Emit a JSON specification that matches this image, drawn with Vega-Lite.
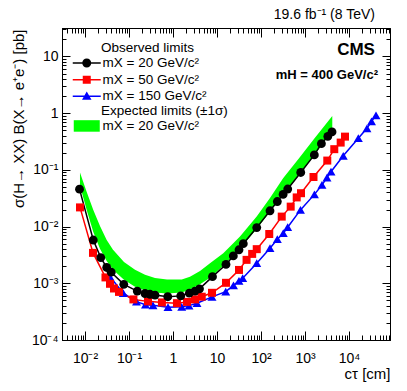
{
  "$schema": "https://vega.github.io/schema/vega-lite/v6.json",
  "width": 328,
  "height": 312,
  "autosize": "none",
  "padding": {"left": 62, "top": 28, "right": 17, "bottom": 51},
  "config": {
    "font": "Liberation Sans",
    "view": {"stroke": "black", "strokeWidth": 1},
    "axis": {
      "grid": false, "domainColor": "black", "domainWidth": 1, "tickColor": "black", "tickWidth": 1,
      "labelColor": "black", "titleColor": "black", "labelFont": "Liberation Sans", "titleFont": "Liberation Sans",
      "labelFontSize": 14, "titleFontSize": 15, "titleFontWeight": "normal", "labelOverlap": false, "labelFlush": false, "labelBound": false
    },
    "legend": {
      "titleFont": "Liberation Sans", "labelFont": "Liberation Sans", "titleFontSize": 13.5, "labelFontSize": 13.5,
      "titleFontWeight": "normal", "titleColor": "black", "labelColor": "black", "symbolOpacity": 1
    }
  },
  "title": {"text": "19.6 fb⁻¹ (8 TeV)", "anchor": "end", "frame": "group", "fontSize": 14, "fontWeight": "normal", "color": "black", "offset": 0, "dx": -15, "font": "Liberation Sans"},
  "datasets": {
    "band": [
      {"c": 0.00769, "hi": 0.0896, "lo": 0.0525, "b": "mX = 20 GeV/c²"},
      {"c": 0.01093, "hi": 0.0409, "lo": 0.0197, "b": "mX = 20 GeV/c²"},
      {"c": 0.01544, "hi": 0.0197, "lo": 0.00805, "b": "mX = 20 GeV/c²"},
      {"c": 0.0219, "hi": 0.01028, "lo": 0.00405, "b": "mX = 20 GeV/c²"},
      {"c": 0.0311, "hi": 0.00582, "lo": 0.00248, "b": "mX = 20 GeV/c²"},
      {"c": 0.0433, "hi": 0.00389, "lo": 0.00173, "b": "mX = 20 GeV/c²"},
      {"c": 0.0769, "hi": 0.00238, "lo": 0.00115, "b": "mX = 20 GeV/c²"},
      {"c": 0.137, "hi": 0.00173, "lo": 0.000865, "b": "mX = 20 GeV/c²"},
      {"c": 0.231, "hi": 0.00141, "lo": 0.00075, "b": "mX = 20 GeV/c²"},
      {"c": 0.39, "hi": 0.00124, "lo": 0.00069, "b": "mX = 20 GeV/c²"},
      {"c": 0.731, "hi": 0.00117, "lo": 0.000664, "b": "mX = 20 GeV/c²"},
      {"c": 1.58, "hi": 0.00117, "lo": 0.00069, "b": "mX = 20 GeV/c²"},
      {"c": 2.43, "hi": 0.0013, "lo": 0.00078, "b": "mX = 20 GeV/c²"},
      {"c": 4.11, "hi": 0.00165, "lo": 0.00096, "b": "mX = 20 GeV/c²"},
      {"c": 6.93, "hi": 0.00226, "lo": 0.00125, "b": "mX = 20 GeV/c²"},
      {"c": 13.9, "hi": 0.0034, "lo": 0.00203, "b": "mX = 20 GeV/c²"},
      {"c": 33.3, "hi": 0.00667, "lo": 0.00405, "b": "mX = 20 GeV/c²"},
      {"c": 79.8, "hi": 0.015, "lo": 0.0091, "b": "mX = 20 GeV/c²"},
      {"c": 160, "hi": 0.032, "lo": 0.0182, "b": "mX = 20 GeV/c²"},
      {"c": 321, "hi": 0.0723, "lo": 0.0378, "b": "mX = 20 GeV/c²"},
      {"c": 770, "hi": 0.169, "lo": 0.0885, "b": "mX = 20 GeV/c²"},
      {"c": 1600, "hi": 0.352, "lo": 0.177, "b": "mX = 20 GeV/c²"},
      {"c": 4170, "hi": 0.895, "lo": 0.488, "b": "mX = 20 GeV/c²"}
    ],
    "obs": [
      {"c": 0.0077, "v": 0.0218, "s": "mX = 50 GeV/c²"},
      {"c": 0.0152, "v": 0.00344, "s": "mX = 50 GeV/c²"},
      {"c": 0.0292, "v": 0.00127, "s": "mX = 50 GeV/c²"},
      {"c": 0.037, "v": 0.00098, "s": "mX = 50 GeV/c²"},
      {"c": 0.0456, "v": 0.00081, "s": "mX = 50 GeV/c²"},
      {"c": 0.0593, "v": 0.000705, "s": "mX = 50 GeV/c²"},
      {"c": 0.126, "v": 0.00052, "s": "mX = 50 GeV/c²"},
      {"c": 0.27, "v": 0.00048, "s": "mX = 50 GeV/c²"},
      {"c": 0.56, "v": 0.00046, "s": "mX = 50 GeV/c²"},
      {"c": 1.23, "v": 0.000446, "s": "mX = 50 GeV/c²"},
      {"c": 2.08, "v": 0.00047, "s": "mX = 50 GeV/c²"},
      {"c": 3.16, "v": 0.00052, "s": "mX = 50 GeV/c²"},
      {"c": 4.5, "v": 0.00058, "s": "mX = 50 GeV/c²"},
      {"c": 7.7, "v": 0.00068, "s": "mX = 50 GeV/c²"},
      {"c": 16, "v": 0.00102, "s": "mX = 50 GeV/c²"},
      {"c": 31.6, "v": 0.00172, "s": "mX = 50 GeV/c²"},
      {"c": 47, "v": 0.00259, "s": "mX = 50 GeV/c²"},
      {"c": 63, "v": 0.0033, "s": "mX = 50 GeV/c²"},
      {"c": 80, "v": 0.004, "s": "mX = 50 GeV/c²"},
      {"c": 154, "v": 0.0074, "s": "mX = 50 GeV/c²"},
      {"c": 296, "v": 0.015, "s": "mX = 50 GeV/c²"},
      {"c": 473, "v": 0.0225, "s": "mX = 50 GeV/c²"},
      {"c": 648, "v": 0.0327, "s": "mX = 50 GeV/c²"},
      {"c": 811, "v": 0.0388, "s": "mX = 50 GeV/c²"},
      {"c": 1560, "v": 0.075, "s": "mX = 50 GeV/c²"},
      {"c": 3210, "v": 0.146, "s": "mX = 50 GeV/c²"},
      {"c": 4630, "v": 0.232, "s": "mX = 50 GeV/c²"},
      {"c": 6470, "v": 0.303, "s": "mX = 50 GeV/c²"},
      {"c": 8110, "v": 0.386, "s": "mX = 50 GeV/c²"},
      {"c": 0.037, "v": 0.0013, "s": "mX = 150 GeV/c²"},
      {"c": 0.0742, "v": 0.00067, "s": "mX = 150 GeV/c²"},
      {"c": 0.148, "v": 0.000475, "s": "mX = 150 GeV/c²"},
      {"c": 0.237, "v": 0.00042, "s": "mX = 150 GeV/c²"},
      {"c": 0.351, "v": 0.00041, "s": "mX = 150 GeV/c²"},
      {"c": 0.77, "v": 0.00038, "s": "mX = 150 GeV/c²"},
      {"c": 1.58, "v": 0.000384, "s": "mX = 150 GeV/c²"},
      {"c": 2.31, "v": 0.000404, "s": "mX = 150 GeV/c²"},
      {"c": 3.51, "v": 0.000446, "s": "mX = 150 GeV/c²"},
      {"c": 7.7, "v": 0.000575, "s": "mX = 150 GeV/c²"},
      {"c": 15.8, "v": 0.000714, "s": "mX = 150 GeV/c²"},
      {"c": 23.7, "v": 0.00092, "s": "mX = 150 GeV/c²"},
      {"c": 31.6, "v": 0.0011, "s": "mX = 150 GeV/c²"},
      {"c": 38.4, "v": 0.00123, "s": "mX = 150 GeV/c²"},
      {"c": 80, "v": 0.00226, "s": "mX = 150 GeV/c²"},
      {"c": 160, "v": 0.00416, "s": "mX = 150 GeV/c²"},
      {"c": 235, "v": 0.006, "s": "mX = 150 GeV/c²"},
      {"c": 321, "v": 0.00765, "s": "mX = 150 GeV/c²"},
      {"c": 404, "v": 0.00976, "s": "mX = 150 GeV/c²"},
      {"c": 790, "v": 0.0197, "s": "mX = 150 GeV/c²"},
      {"c": 1640, "v": 0.037, "s": "mX = 150 GeV/c²"},
      {"c": 2430, "v": 0.0543, "s": "mX = 150 GeV/c²"},
      {"c": 3160, "v": 0.073, "s": "mX = 150 GeV/c²"},
      {"c": 3900, "v": 0.093, "s": "mX = 150 GeV/c²"},
      {"c": 7410, "v": 0.177, "s": "mX = 150 GeV/c²"},
      {"c": 16300, "v": 0.362, "s": "mX = 150 GeV/c²"},
      {"c": 25600, "v": 0.54, "s": "mX = 150 GeV/c²"},
      {"c": 32500, "v": 0.717, "s": "mX = 150 GeV/c²"},
      {"c": 41100, "v": 0.914, "s": "mX = 150 GeV/c²"},
      {"c": 0.0075, "v": 0.0457, "s": "mX = 20 GeV/c²"},
      {"c": 0.0154, "v": 0.0058, "s": "mX = 20 GeV/c²"},
      {"c": 0.0228, "v": 0.00284, "s": "mX = 20 GeV/c²"},
      {"c": 0.0311, "v": 0.0019, "s": "mX = 20 GeV/c²"},
      {"c": 0.0394, "v": 0.00157, "s": "mX = 20 GeV/c²"},
      {"c": 0.076, "v": 0.00096, "s": "mX = 20 GeV/c²"},
      {"c": 0.154, "v": 0.00073, "s": "mX = 20 GeV/c²"},
      {"c": 0.231, "v": 0.00066, "s": "mX = 20 GeV/c²"},
      {"c": 0.30, "v": 0.00064, "s": "mX = 20 GeV/c²"},
      {"c": 0.39, "v": 0.00062, "s": "mX = 20 GeV/c²"},
      {"c": 0.76, "v": 0.00058, "s": "mX = 20 GeV/c²"},
      {"c": 1.5, "v": 0.0006, "s": "mX = 20 GeV/c²"},
      {"c": 2.35, "v": 0.00067, "s": "mX = 20 GeV/c²"},
      {"c": 3.16, "v": 0.00073, "s": "mX = 20 GeV/c²"},
      {"c": 4.0, "v": 0.0008, "s": "mX = 20 GeV/c²"},
      {"c": 7.9, "v": 0.00131, "s": "mX = 20 GeV/c²"},
      {"c": 16, "v": 0.00215, "s": "mX = 20 GeV/c²"},
      {"c": 23.5, "v": 0.00304, "s": "mX = 20 GeV/c²"},
      {"c": 31.6, "v": 0.0039, "s": "mX = 20 GeV/c²"},
      {"c": 39.6, "v": 0.005, "s": "mX = 20 GeV/c²"},
      {"c": 80, "v": 0.0096, "s": "mX = 20 GeV/c²"},
      {"c": 160, "v": 0.019, "s": "mX = 20 GeV/c²"},
      {"c": 235, "v": 0.0277, "s": "mX = 20 GeV/c²"},
      {"c": 318, "v": 0.037, "s": "mX = 20 GeV/c²"},
      {"c": 405, "v": 0.046, "s": "mX = 20 GeV/c²"},
      {"c": 800, "v": 0.09, "s": "mX = 20 GeV/c²"},
      {"c": 1630, "v": 0.184, "s": "mX = 20 GeV/c²"},
      {"c": 2360, "v": 0.29, "s": "mX = 20 GeV/c²"},
      {"c": 3300, "v": 0.39, "s": "mX = 20 GeV/c²"},
      {"c": 4110, "v": 0.468, "s": "mX = 20 GeV/c²"}
    ]
  },
  "layer": [
    {
      "data": {"name": "obs"},
      "mark": {"type": "point", "filled": true, "opacity": 0, "size": 100, "strokeWidth": 0},
      "encoding": {
        "x": {"field": "c", "type": "quantitative", "scale": {"type": "log", "domain": [0.003, 85500], "nice": false}, "axis": null},
        "y": {"field": "v", "type": "quantitative", "scale": {"type": "log", "domain": [0.0001, 31.8], "nice": false}, "axis": null},
        "color": {"field": "s", "type": "nominal",
          "scale": {"domain": ["mX = 20 GeV/c²", "mX = 50 GeV/c²", "mX = 150 GeV/c²"], "range": ["#000000", "#ff0000", "#0000ff"]},
          "legend": {"title": "Observed limits", "orient": "none", "legendX": 10, "legendY": 13,
            "symbolSize": 100, "symbolStrokeWidth": 0, "symbolOffset": 8, "labelOffset": 9,
            "rowPadding": 1.7, "titlePadding": 1.7,
            "encode": {"title": {"update": {"dx": {"value": 29}}}}}},
        "shape": {"field": "s", "type": "nominal",
          "scale": {"domain": ["mX = 20 GeV/c²", "mX = 50 GeV/c²", "mX = 150 GeV/c²"],
            "range": ["M-2.8,-0.15H2.8V0.15H-2.8Z M0.9,0 A0.9,0.9 0 1,1 -0.9,0 A0.9,0.9 0 1,1 0.9,0 Z", "M-2.8,-0.15H2.8V0.15H-2.8Z M-0.8,-0.8H0.8V0.8H-0.8Z", "M-2.8,-0.15H2.8V0.15H-2.8Z M0,-0.95L0.95,0.7H-0.95Z"]},
          "legend": {"title": "Observed limits", "orient": "none", "legendX": 10, "legendY": 13,
            "symbolSize": 100, "symbolStrokeWidth": 0, "symbolOffset": 8, "labelOffset": 9,
            "rowPadding": 1.7, "titlePadding": 1.7,
            "encode": {"title": {"update": {"dx": {"value": 29}}}}}}
      }
    },
    {
      "data": {"name": "band"},
      "mark": {"type": "area", "opacity": 1, "interpolate": "linear"},
      "encoding": {
        "x": {"field": "c", "type": "quantitative",
          "scale": {"type": "log", "domain": [0.003, 85500], "nice": false},
          "axis": {"orient": "bottom",
            "values": [0.003,0.004,0.005,0.006,0.007,0.008,0.009,0.01,0.02,0.03,0.04,0.05,0.06,0.07,0.08,0.09,0.1,0.2,0.3,0.4,0.5,0.6,0.7,0.8,0.9,1,2,3,4,5,6,7,8,9,10,20,30,40,50,60,70,80,90,100,200,300,400,500,600,700,800,900,1000,2000,3000,4000,5000,6000,7000,8000,9000,10000,20000,30000,40000,50000,60000,70000,80000],
            "labelExpr": "abs(log(datum.value)/LN10 - round(log(datum.value)/LN10)) > 1e-6 ? '' : ({'-4':'10⁻⁴','-3':'10⁻³','-2':'10⁻²','-1':'10⁻¹','0':'1','1':'10','2':'10²','3':'10³','4':'10⁴'})['' + round(log(datum.value)/LN10)]",
            "tickSize": {"condition": {"test": "abs(log(datum.value)/LN10 - round(log(datum.value)/LN10)) < 1e-6", "value": -9}, "value": -5},
            "labelPadding": 20,
            "labelBaseline": "top",
            "title": "cτ [cm]", "titleAnchor": "end", "titleAlign": "right", "titleBaseline": "middle", "titleX": 328, "titleY": 33}},
        "y": {"field": "hi", "type": "quantitative",
          "scale": {"type": "log", "domain": [0.0001, 31.8], "nice": false},
          "axis": {"orient": "left",
            "values": [0.0001,0.0002,0.0003,0.0004,0.0005,0.0006,0.0007,0.0008,0.0009,0.001,0.002,0.003,0.004,0.005,0.006,0.007,0.008,0.009,0.01,0.02,0.03,0.04,0.05,0.06,0.07,0.08,0.09,0.1,0.2,0.3,0.4,0.5,0.6,0.7,0.8,0.9,1,2,3,4,5,6,7,8,9,10,20,30],
            "labelExpr": "abs(log(datum.value)/LN10 - round(log(datum.value)/LN10)) > 1e-6 ? '' : ({'-4':'10⁻⁴','-3':'10⁻³','-2':'10⁻²','-1':'10⁻¹','0':'1','1':'10','2':'10²','3':'10³','4':'10⁴'})['' + round(log(datum.value)/LN10)]",
            "tickSize": {"condition": {"test": "abs(log(datum.value)/LN10 - round(log(datum.value)/LN10)) < 1e-6", "value": -8}, "value": -4},
            "labelPadding": 12,
            "title": "σ(H→ XX) B(X→ e⁺e⁻) [pb]", "titleAngle": -90, "titleAlign": "right", "titleBaseline": "middle", "titleX": -44, "titleY": 1}},
        "y2": {"field": "lo"},
        "fill": {"field": "b", "type": "nominal",
          "scale": {"range": ["#00ff00"]},
          "legend": {"title": "Expected limits (±1σ)", "orient": "none", "legendX": 10, "legendY": 76,
            "symbolType": "M-2.6,-1.15H2.6V1.15H-2.6Z", "symbolSize": 100, "symbolStrokeWidth": 0, "symbolOffset": 8, "labelOffset": 9,
            "rowPadding": 1.7, "titlePadding": 1.7,
            "encode": {"title": {"update": {"dx": {"value": 29}}}}}}
      }
    },
    {
      "data": {"name": "obs"},
      "transform": [{"filter": {"field": "s", "equal": "mX = 150 GeV/c²"}}],
      "mark": {"type": "line", "strokeWidth": 1.5, "color": "#0000ff"},
      "encoding": {
        "x": {"field": "c", "type": "quantitative",
          "scale": {"type": "log", "domain": [0.003, 85500], "nice": false},
          "axis": {"orient": "top", "labels": false, "title": null,
            "values": [0.003,0.004,0.005,0.006,0.007,0.008,0.009,0.01,0.02,0.03,0.04,0.05,0.06,0.07,0.08,0.09,0.1,0.2,0.3,0.4,0.5,0.6,0.7,0.8,0.9,1,2,3,4,5,6,7,8,9,10,20,30,40,50,60,70,80,90,100,200,300,400,500,600,700,800,900,1000,2000,3000,4000,5000,6000,7000,8000,9000,10000,20000,30000,40000,50000,60000,70000,80000],
            "tickSize": {"condition": {"test": "abs(log(datum.value)/LN10 - round(log(datum.value)/LN10)) < 1e-6", "value": -9}, "value": -5}}},
        "y": {"field": "v", "type": "quantitative",
          "scale": {"type": "log", "domain": [0.0001, 31.8], "nice": false},
          "axis": {"orient": "right", "labels": false, "title": null,
            "values": [0.0001,0.0002,0.0003,0.0004,0.0005,0.0006,0.0007,0.0008,0.0009,0.001,0.002,0.003,0.004,0.005,0.006,0.007,0.008,0.009,0.01,0.02,0.03,0.04,0.05,0.06,0.07,0.08,0.09,0.1,0.2,0.3,0.4,0.5,0.6,0.7,0.8,0.9,1,2,3,4,5,6,7,8,9,10,20,30],
            "tickSize": {"condition": {"test": "abs(log(datum.value)/LN10 - round(log(datum.value)/LN10)) < 1e-6", "value": -8}, "value": -4}}}
      }
    },
    {
      "data": {"name": "obs"},
      "transform": [{"filter": {"field": "s", "equal": "mX = 50 GeV/c²"}}],
      "mark": {"type": "line", "strokeWidth": 1.5, "color": "#ff0000"},
      "encoding": {
        "x": {"field": "c", "type": "quantitative", "axis": null},
        "y": {"field": "v", "type": "quantitative", "axis": null}
      }
    },
    {
      "data": {"name": "obs"},
      "transform": [{"filter": {"field": "s", "equal": "mX = 20 GeV/c²"}}],
      "mark": {"type": "line", "strokeWidth": 1.5, "color": "#000000"},
      "encoding": {
        "x": {"field": "c", "type": "quantitative", "axis": null},
        "y": {"field": "v", "type": "quantitative", "axis": null}
      }
    },
    {
      "data": {"name": "obs"},
      "transform": [{"filter": {"field": "s", "equal": "mX = 150 GeV/c²"}}],
      "mark": {"type": "point", "filled": true, "opacity": 1, "size": 80, "strokeWidth": 0, "shape": "triangle-up", "color": "#0000ff"},
      "encoding": {
        "x": {"field": "c", "type": "quantitative", "axis": null},
        "y": {"field": "v", "type": "quantitative", "axis": null}
      }
    },
    {
      "data": {"name": "obs"},
      "transform": [{"filter": {"field": "s", "equal": "mX = 50 GeV/c²"}}],
      "mark": {"type": "point", "filled": true, "opacity": 1, "size": 64, "strokeWidth": 0, "shape": "square", "color": "#ff0000"},
      "encoding": {
        "x": {"field": "c", "type": "quantitative", "axis": null},
        "y": {"field": "v", "type": "quantitative", "axis": null}
      }
    },
    {
      "data": {"name": "obs"},
      "transform": [{"filter": {"field": "s", "equal": "mX = 20 GeV/c²"}}],
      "mark": {"type": "point", "filled": true, "opacity": 1, "size": 78, "strokeWidth": 0, "shape": "circle", "color": "#000000"},
      "encoding": {
        "x": {"field": "c", "type": "quantitative", "axis": null},
        "y": {"field": "v", "type": "quantitative", "axis": null}
      }
    },
    {
      "data": {"values": [{"t": "CMS"}]},
      "mark": {"type": "text", "align": "right", "baseline": "middle", "fontSize": 17, "fontWeight": "bold", "font": "Liberation Sans", "color": "black"},
      "encoding": {
        "x": {"datum": 38900, "type": "quantitative", "axis": null},
        "y": {"datum": 13.1, "type": "quantitative", "axis": null},
        "text": {"field": "t"}
      }
    },
    {
      "data": {"values": [{"t": "mH = 400 GeV/c²"}]},
      "mark": {"type": "text", "align": "right", "baseline": "middle", "fontSize": 13, "fontWeight": "bold", "font": "Liberation Sans", "color": "black"},
      "encoding": {
        "x": {"datum": 45700, "type": "quantitative", "axis": null},
        "y": {"datum": 4.73, "type": "quantitative", "axis": null},
        "text": {"field": "t"}
      }
    }
  ],
  "resolve": {"axis": {"x": "independent", "y": "independent"}}
}
